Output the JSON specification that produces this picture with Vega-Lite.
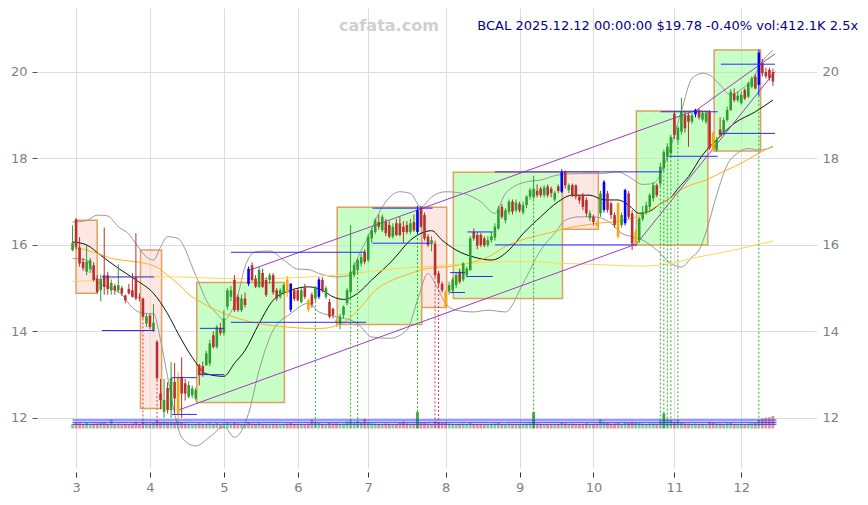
{
"$schema":"https://vega.github.io/schema/vega-lite/v6.json",
"width":775,"height":460,
"autosize":{"type":"none"},
"padding":{"left":37,"top":8,"right":56,"bottom":37},
"background":"white",
"config":{"view":{"stroke":null},"font":"DejaVu Sans"},
"datasets":{
"cd":[
{"i":-1,"o":15.88,"h":16.45,"l":15.85,"c":16.05,"t":"u","v":150},
{"i":0,"o":16.59,"h":16.62,"l":15.90,"c":15.96,"t":"d","v":180},
{"i":1,"o":15.94,"h":16.18,"l":15.50,"c":15.57,"t":"d","v":170},
{"i":2,"o":15.61,"h":15.70,"l":15.40,"c":15.46,"t":"d","v":140},
{"i":3,"o":15.38,"h":16.00,"l":15.30,"c":15.61,"t":"u","v":190},
{"i":4,"o":15.45,"h":15.70,"l":15.35,"c":15.65,"t":"u","v":150},
{"i":5,"o":15.53,"h":15.60,"l":15.15,"c":15.19,"t":"d","v":160},
{"i":6,"o":15.22,"h":15.30,"l":14.88,"c":14.91,"t":"d","v":170},
{"i":7,"o":14.95,"h":15.30,"l":14.70,"c":15.21,"t":"u","v":180},
{"i":8,"o":15.30,"h":16.40,"l":14.85,"c":15.03,"t":"d","v":200},
{"i":9,"o":15.30,"h":15.38,"l":14.85,"c":14.98,"t":"d","v":150},
{"i":10,"o":14.95,"h":15.20,"l":14.85,"c":15.12,"t":"u","v":290},
{"i":11,"o":15.05,"h":15.10,"l":14.85,"c":14.95,"t":"d","v":140},
{"i":12,"o":14.95,"h":15.55,"l":14.90,"c":15.07,"t":"u","v":160},
{"i":13,"o":15.00,"h":15.05,"l":14.82,"c":14.88,"t":"d","v":130},
{"i":14,"o":14.83,"h":14.85,"l":14.65,"c":14.72,"t":"d","v":150},
{"i":15,"o":14.98,"h":15.10,"l":14.85,"c":14.88,"t":"d","v":140},
{"i":16,"o":14.95,"h":15.35,"l":14.78,"c":14.80,"t":"d","v":160},
{"i":17,"o":15.25,"h":16.27,"l":14.72,"c":14.76,"t":"d","v":220},
{"i":18,"o":14.80,"h":14.88,"l":14.70,"c":14.78,"t":"d","v":150},
{"i":19,"o":14.76,"h":14.78,"l":14.30,"c":14.34,"t":"d","v":230},
{"i":20,"o":14.18,"h":14.40,"l":14.10,"c":14.35,"t":"u","v":170},
{"i":21,"o":14.37,"h":14.40,"l":14.05,"c":14.10,"t":"d","v":160},
{"i":22,"o":14.01,"h":14.63,"l":13.98,"c":14.20,"t":"u","v":180},
{"i":23,"o":13.76,"h":13.80,"l":12.88,"c":12.92,"t":"d","v":250},
{"i":24,"o":12.56,"h":12.90,"l":12.20,"c":12.41,"t":"d","v":210},
{"i":25,"o":12.14,"h":12.90,"l":12.00,"c":12.41,"t":"u","v":230},
{"i":26,"o":12.69,"h":12.82,"l":12.10,"c":12.18,"t":"d","v":200},
{"i":27,"o":12.18,"h":13.29,"l":12.00,"c":12.92,"t":"u","v":220},
{"i":28,"o":12.83,"h":13.27,"l":12.10,"c":12.45,"t":"d","v":190},
{"i":29,"o":12.10,"h":13.05,"l":11.97,"c":12.95,"t":"o","v":240},
{"i":30,"o":12.95,"h":13.40,"l":12.00,"c":12.56,"t":"d","v":200},
{"i":31,"o":12.80,"h":12.90,"l":12.40,"c":12.56,"t":"d","v":160},
{"i":32,"o":12.49,"h":12.85,"l":12.45,"c":12.76,"t":"u","v":150},
{"i":33,"o":12.52,"h":12.75,"l":12.45,"c":12.68,"t":"u","v":140},
{"i":34,"o":12.45,"h":12.70,"l":12.40,"c":12.64,"t":"u","v":150},
{"i":35,"o":13.22,"h":13.25,"l":12.75,"c":12.99,"t":"d","v":170},
{"i":36,"o":13.20,"h":13.30,"l":12.95,"c":13.00,"t":"d","v":150},
{"i":37,"o":13.22,"h":13.55,"l":13.20,"c":13.49,"t":"u","v":160},
{"i":38,"o":13.26,"h":13.80,"l":13.20,"c":13.72,"t":"u","v":170},
{"i":39,"o":13.91,"h":14.00,"l":13.60,"c":13.64,"t":"d","v":150},
{"i":40,"o":13.64,"h":14.15,"l":13.60,"c":14.10,"t":"u","v":180},
{"i":41,"o":14.07,"h":14.20,"l":13.90,"c":13.96,"t":"d","v":140},
{"i":42,"o":13.96,"h":14.49,"l":13.90,"c":14.30,"t":"u","v":170},
{"i":43,"o":14.57,"h":15.00,"l":14.50,"c":14.95,"t":"u","v":200},
{"i":44,"o":14.80,"h":15.05,"l":14.70,"c":14.95,"t":"u","v":160},
{"i":45,"o":15.19,"h":15.30,"l":14.45,"c":14.49,"t":"d","v":190},
{"i":46,"o":14.80,"h":14.85,"l":14.45,"c":14.49,"t":"d","v":170},
{"i":47,"o":14.49,"h":14.85,"l":14.45,"c":14.76,"t":"u","v":150},
{"i":48,"o":14.76,"h":14.90,"l":14.55,"c":14.61,"t":"d","v":140},
{"i":49,"o":15.10,"h":15.50,"l":15.05,"c":15.45,"t":"b","v":210},
{"i":50,"o":15.53,"h":15.60,"l":15.15,"c":15.19,"t":"d","v":160},
{"i":51,"o":15.22,"h":15.30,"l":15.00,"c":15.03,"t":"d","v":150},
{"i":52,"o":15.03,"h":15.50,"l":15.00,"c":15.42,"t":"u","v":170},
{"i":53,"o":15.35,"h":15.45,"l":15.00,"c":15.03,"t":"d","v":140},
{"i":54,"o":15.19,"h":15.25,"l":14.80,"c":14.84,"t":"d","v":150},
{"i":55,"o":15.19,"h":15.35,"l":15.10,"c":15.30,"t":"u","v":130},
{"i":56,"o":15.30,"h":15.35,"l":14.85,"c":14.90,"t":"d","v":150},
{"i":57,"o":14.95,"h":15.00,"l":14.70,"c":14.76,"t":"d","v":140},
{"i":58,"o":14.80,"h":15.00,"l":14.75,"c":14.95,"t":"u","v":130},
{"i":59,"o":14.88,"h":15.10,"l":14.85,"c":15.07,"t":"u","v":140},
{"i":60,"o":15.20,"h":15.28,"l":14.80,"c":14.88,"t":"o","v":160},
{"i":61,"o":15.10,"h":15.12,"l":14.45,"c":14.50,"t":"b","v":180},
{"i":62,"o":14.95,"h":15.00,"l":14.70,"c":14.75,"t":"d","v":150},
{"i":63,"o":14.95,"h":15.00,"l":14.70,"c":14.72,"t":"d","v":140},
{"i":64,"o":14.68,"h":15.00,"l":14.65,"c":14.95,"t":"u","v":150},
{"i":65,"o":15.00,"h":15.10,"l":14.75,"c":14.80,"t":"d","v":140},
{"i":66,"o":14.72,"h":14.75,"l":14.45,"c":14.50,"t":"o","v":160},
{"i":67,"o":14.85,"h":14.90,"l":14.55,"c":14.62,"t":"d","v":290},
{"i":68,"o":14.76,"h":15.05,"l":14.70,"c":15.03,"t":"u","v":200},
{"i":69,"o":14.80,"h":15.25,"l":14.75,"c":15.20,"t":"b","v":180},
{"i":70,"o":15.19,"h":15.25,"l":14.90,"c":14.93,"t":"d","v":150},
{"i":71,"o":14.80,"h":15.05,"l":14.75,"c":15.00,"t":"u","v":140},
{"i":72,"o":14.68,"h":14.75,"l":14.30,"c":14.34,"t":"d","v":190},
{"i":73,"o":14.52,"h":14.55,"l":14.30,"c":14.38,"t":"d","v":160},
{"i":74,"o":14.26,"h":14.30,"l":14.10,"c":14.19,"t":"o","v":170},
{"i":75,"o":14.18,"h":14.40,"l":14.05,"c":14.34,"t":"u","v":150},
{"i":76,"o":14.38,"h":14.60,"l":14.30,"c":14.57,"t":"u","v":160},
{"i":77,"o":14.65,"h":15.00,"l":14.60,"c":14.95,"t":"u","v":230},
{"i":78,"o":14.91,"h":16.46,"l":14.85,"c":15.38,"t":"u","v":260},
{"i":79,"o":15.30,"h":15.60,"l":15.25,"c":15.53,"t":"u","v":200},
{"i":80,"o":15.42,"h":15.70,"l":15.35,"c":15.65,"t":"u","v":240},
{"i":81,"o":15.57,"h":15.80,"l":15.50,"c":15.72,"t":"u","v":200},
{"i":82,"o":15.84,"h":15.90,"l":15.55,"c":15.61,"t":"d","v":320},
{"i":83,"o":15.65,"h":16.25,"l":15.60,"c":16.19,"t":"u","v":190},
{"i":84,"o":16.15,"h":16.40,"l":16.05,"c":16.34,"t":"u","v":170},
{"i":85,"o":16.30,"h":16.62,"l":16.25,"c":16.57,"t":"u","v":160},
{"i":86,"o":16.53,"h":16.70,"l":16.35,"c":16.42,"t":"d","v":150},
{"i":87,"o":16.34,"h":16.70,"l":16.30,"c":16.65,"t":"u","v":140},
{"i":88,"o":16.53,"h":16.60,"l":16.20,"c":16.27,"t":"d","v":160},
{"i":89,"o":16.46,"h":16.55,"l":16.15,"c":16.19,"t":"d","v":150},
{"i":90,"o":16.19,"h":16.50,"l":16.15,"c":16.42,"t":"u","v":140},
{"i":91,"o":16.50,"h":16.60,"l":16.20,"c":16.23,"t":"d","v":150},
{"i":92,"o":16.50,"h":16.65,"l":16.20,"c":16.23,"t":"d","v":190},
{"i":93,"o":16.42,"h":16.55,"l":16.05,"c":16.30,"t":"d","v":230},
{"i":94,"o":16.46,"h":16.55,"l":16.25,"c":16.30,"t":"d","v":170},
{"i":95,"o":16.30,"h":16.60,"l":16.25,"c":16.50,"t":"u","v":150},
{"i":96,"o":16.53,"h":16.70,"l":16.30,"c":16.34,"t":"d","v":160},
{"i":97,"o":16.30,"h":16.90,"l":16.25,"c":16.80,"t":"b","v":540},
{"i":98,"o":16.84,"h":16.90,"l":16.40,"c":16.42,"t":"d","v":200},
{"i":99,"o":16.69,"h":16.75,"l":16.10,"c":16.15,"t":"d","v":190},
{"i":100,"o":16.19,"h":16.25,"l":15.95,"c":16.00,"t":"d","v":170},
{"i":101,"o":16.02,"h":16.20,"l":15.85,"c":16.11,"t":"u","v":150},
{"i":102,"o":16.03,"h":16.10,"l":15.25,"c":15.30,"t":"d","v":230},
{"i":103,"o":15.34,"h":15.40,"l":15.05,"c":15.11,"t":"d","v":220},
{"i":104,"o":15.10,"h":15.15,"l":14.90,"c":14.95,"t":"d","v":180},
{"i":105,"o":14.92,"h":14.95,"l":14.55,"c":14.57,"t":"o","v":200},
{"i":106,"o":14.92,"h":15.15,"l":14.85,"c":15.07,"t":"u","v":160},
{"i":107,"o":14.95,"h":15.25,"l":14.90,"c":15.20,"t":"u","v":150},
{"i":108,"o":15.07,"h":15.35,"l":15.00,"c":15.30,"t":"u","v":140},
{"i":109,"o":15.38,"h":15.45,"l":15.10,"c":15.15,"t":"d","v":150},
{"i":110,"o":15.20,"h":15.60,"l":15.15,"c":15.57,"t":"u","v":160},
{"i":111,"o":15.30,"h":15.50,"l":15.25,"c":15.45,"t":"u","v":140},
{"i":112,"o":15.42,"h":16.20,"l":15.40,"c":16.15,"t":"u","v":200},
{"i":113,"o":16.30,"h":16.38,"l":16.10,"c":16.15,"t":"d","v":150},
{"i":114,"o":16.23,"h":16.30,"l":15.90,"c":15.98,"t":"d","v":140},
{"i":115,"o":16.23,"h":16.28,"l":15.95,"c":16.00,"t":"d","v":150},
{"i":116,"o":16.15,"h":16.20,"l":15.95,"c":15.99,"t":"d","v":130},
{"i":117,"o":16.00,"h":16.20,"l":15.95,"c":16.11,"t":"u","v":140},
{"i":118,"o":16.11,"h":16.30,"l":16.05,"c":16.20,"t":"u","v":150},
{"i":119,"o":16.17,"h":16.50,"l":16.10,"c":16.42,"t":"u","v":160},
{"i":120,"o":16.38,"h":16.90,"l":16.35,"c":16.84,"t":"u","v":180},
{"i":121,"o":16.88,"h":16.95,"l":16.60,"c":16.65,"t":"d","v":150},
{"i":122,"o":16.57,"h":16.85,"l":16.50,"c":16.80,"t":"u","v":140},
{"i":123,"o":16.77,"h":17.05,"l":16.70,"c":17.00,"t":"u","v":160},
{"i":124,"o":17.00,"h":17.05,"l":16.70,"c":16.77,"t":"d","v":150},
{"i":125,"o":16.80,"h":17.05,"l":16.75,"c":16.98,"t":"u","v":140},
{"i":126,"o":16.95,"h":17.00,"l":16.75,"c":16.80,"t":"d","v":130},
{"i":127,"o":16.75,"h":17.00,"l":16.70,"c":16.92,"t":"u","v":150},
{"i":128,"o":16.92,"h":17.15,"l":16.85,"c":17.12,"t":"u","v":160},
{"i":129,"o":17.12,"h":17.32,"l":17.05,"c":17.27,"t":"u","v":170},
{"i":130,"o":17.10,"h":17.60,"l":17.05,"c":17.30,"t":"u","v":540},
{"i":131,"o":17.25,"h":17.40,"l":17.10,"c":17.15,"t":"d","v":160},
{"i":132,"o":17.30,"h":17.35,"l":17.10,"c":17.15,"t":"d","v":150},
{"i":133,"o":17.15,"h":17.38,"l":17.10,"c":17.33,"t":"u","v":140},
{"i":134,"o":17.35,"h":17.40,"l":17.10,"c":17.15,"t":"d","v":150},
{"i":135,"o":17.30,"h":17.35,"l":17.10,"c":17.20,"t":"d","v":140},
{"i":136,"o":17.05,"h":17.25,"l":17.00,"c":17.20,"t":"u","v":130},
{"i":137,"o":17.35,"h":17.40,"l":17.20,"c":17.25,"t":"d","v":140},
{"i":138,"o":17.23,"h":17.75,"l":17.20,"c":17.69,"t":"b","v":200},
{"i":139,"o":17.69,"h":17.72,"l":17.30,"c":17.38,"t":"d","v":170},
{"i":140,"o":17.27,"h":17.42,"l":17.20,"c":17.38,"t":"u","v":150},
{"i":141,"o":17.38,"h":17.42,"l":17.10,"c":17.15,"t":"d","v":160},
{"i":142,"o":17.38,"h":17.40,"l":17.05,"c":17.12,"t":"d","v":150},
{"i":143,"o":17.12,"h":17.15,"l":16.95,"c":17.03,"t":"d","v":140},
{"i":144,"o":17.15,"h":17.20,"l":16.80,"c":16.88,"t":"d","v":150},
{"i":145,"o":17.04,"h":17.10,"l":16.65,"c":16.73,"t":"d","v":170},
{"i":146,"o":16.62,"h":16.80,"l":16.55,"c":16.73,"t":"u","v":150},
{"i":147,"o":16.65,"h":16.70,"l":16.45,"c":16.53,"t":"d","v":140},
{"i":148,"o":16.50,"h":16.55,"l":16.40,"c":16.45,"t":"o","v":160},
{"i":149,"o":16.73,"h":17.25,"l":16.65,"c":17.19,"t":"u","v":310},
{"i":150,"o":16.81,"h":17.50,"l":16.75,"c":17.46,"t":"b","v":220},
{"i":151,"o":17.19,"h":17.25,"l":16.75,"c":16.81,"t":"d","v":180},
{"i":152,"o":16.96,"h":17.00,"l":16.60,"c":16.69,"t":"d","v":160},
{"i":153,"o":16.69,"h":16.75,"l":16.40,"c":16.46,"t":"d","v":170},
{"i":154,"o":16.96,"h":17.00,"l":16.15,"c":16.19,"t":"o","v":200},
{"i":155,"o":16.46,"h":16.75,"l":16.40,"c":16.69,"t":"u","v":150},
{"i":156,"o":16.50,"h":17.30,"l":16.45,"c":17.27,"t":"b","v":200},
{"i":157,"o":17.19,"h":17.25,"l":16.60,"c":16.65,"t":"d","v":180},
{"i":158,"o":16.73,"h":16.80,"l":15.88,"c":16.03,"t":"d","v":220},
{"i":159,"o":16.02,"h":16.35,"l":15.96,"c":16.30,"t":"o","v":200},
{"i":160,"o":16.11,"h":16.65,"l":16.05,"c":16.61,"t":"u","v":180},
{"i":161,"o":16.60,"h":16.90,"l":16.55,"c":16.76,"t":"u","v":160},
{"i":162,"o":16.76,"h":17.00,"l":16.70,"c":16.92,"t":"u","v":150},
{"i":163,"o":16.88,"h":17.20,"l":16.80,"c":17.15,"t":"u","v":160},
{"i":164,"o":17.08,"h":17.45,"l":17.00,"c":17.38,"t":"u","v":170},
{"i":165,"o":17.38,"h":17.42,"l":17.10,"c":17.15,"t":"d","v":160},
{"i":166,"o":17.42,"h":17.90,"l":17.35,"c":17.81,"t":"u","v":260},
{"i":167,"o":17.77,"h":18.20,"l":17.70,"c":18.15,"t":"u","v":500},
{"i":168,"o":18.04,"h":18.35,"l":17.95,"c":18.27,"t":"u","v":300},
{"i":169,"o":18.12,"h":18.55,"l":18.05,"c":18.50,"t":"u","v":280},
{"i":170,"o":19.04,"h":19.10,"l":18.45,"c":18.54,"t":"d","v":220},
{"i":171,"o":18.43,"h":18.75,"l":18.35,"c":18.70,"t":"u","v":260},
{"i":172,"o":18.62,"h":19.40,"l":18.55,"c":19.08,"t":"u","v":200},
{"i":173,"o":19.00,"h":19.10,"l":18.60,"c":18.70,"t":"d","v":170},
{"i":174,"o":19.00,"h":19.05,"l":18.27,"c":18.85,"t":"d","v":160},
{"i":175,"o":18.85,"h":19.05,"l":18.80,"c":19.00,"t":"u","v":150},
{"i":176,"o":19.02,"h":19.15,"l":18.95,"c":19.12,"t":"b","v":160},
{"i":177,"o":19.12,"h":19.15,"l":18.90,"c":18.95,"t":"d","v":140},
{"i":178,"o":18.90,"h":19.10,"l":18.85,"c":19.05,"t":"u","v":150},
{"i":179,"o":18.85,"h":19.10,"l":18.80,"c":19.05,"t":"u","v":140},
{"i":180,"o":19.08,"h":19.12,"l":18.20,"c":18.24,"t":"d","v":220},
{"i":181,"o":18.60,"h":18.62,"l":18.15,"c":18.20,"t":"o","v":200},
{"i":182,"o":18.20,"h":18.50,"l":18.15,"c":18.43,"t":"u","v":170},
{"i":183,"o":18.67,"h":18.95,"l":18.50,"c":18.54,"t":"d","v":160},
{"i":184,"o":18.58,"h":18.95,"l":18.55,"c":18.89,"t":"u","v":150},
{"i":185,"o":18.89,"h":19.20,"l":18.85,"c":19.12,"t":"u","v":170},
{"i":186,"o":19.12,"h":19.60,"l":19.10,"c":19.54,"t":"u","v":180},
{"i":187,"o":19.50,"h":19.62,"l":19.30,"c":19.35,"t":"d","v":150},
{"i":188,"o":19.35,"h":19.55,"l":19.30,"c":19.45,"t":"u","v":140},
{"i":189,"o":19.28,"h":19.55,"l":19.25,"c":19.47,"t":"u","v":150},
{"i":190,"o":19.58,"h":19.62,"l":19.35,"c":19.39,"t":"d","v":140},
{"i":191,"o":19.43,"h":19.78,"l":19.40,"c":19.74,"t":"u","v":160},
{"i":192,"o":19.66,"h":19.90,"l":19.62,"c":19.85,"t":"u","v":170},
{"i":193,"o":19.89,"h":19.95,"l":19.60,"c":19.62,"t":"d","v":180},
{"i":194,"o":19.70,"h":20.52,"l":19.45,"c":20.45,"t":"b","v":300},
{"i":195,"o":20.20,"h":20.30,"l":19.90,"c":19.97,"t":"d","v":330},
{"i":196,"o":20.00,"h":20.10,"l":19.85,"c":19.90,"t":"d","v":360},
{"i":197,"o":20.05,"h":20.10,"l":19.80,"c":19.86,"t":"d","v":370},
{"i":198,"o":20.00,"h":20.08,"l":19.68,"c":19.78,"t":"d","v":412}
],
"bx":[
{"i1":0,"i2":6,"p1":16.57,"p2":14.88,"k":"r"},
{"i1":18.3,"i2":24.3,"p1":15.88,"p2":12.215,"k":"r"},
{"i1":34.3,"i2":59.2,"p1":15.13,"p2":12.355,"k":"g"},
{"i1":74.2,"i2":98.2,"p1":16.87,"p2":14.16,"k":"g"},
{"i1":98.2,"i2":105.3,"p1":16.87,"p2":14.55,"k":"r"},
{"i1":107.2,"i2":138.2,"p1":17.68,"p2":14.76,"k":"g"},
{"i1":138.2,"i2":148.4,"p1":17.69,"p2":16.36,"k":"r"},
{"i1":159.2,"i2":179.5,"p1":19.10,"p2":16.0,"k":"g"},
{"i1":181.3,"i2":194.5,"p1":20.51,"p2":18.17,"k":"g"}
],
"hl":[
{"i1":7.3,"i2":22.2,"p":15.26},
{"i1":7.3,"i2":22.2,"p":14.02},
{"i1":27.2,"i2":34.3,"p":12.93},
{"i1":27.2,"i2":34.3,"p":12.08},
{"i1":35.2,"i2":42.1,"p":14.07},
{"i1":35.2,"i2":42.1,"p":13.0},
{"i1":44,"i2":82.1,"p":15.83},
{"i1":44,"i2":82.4,"p":14.21},
{"i1":84.2,"i2":101.3,"p":16.85},
{"i1":84.2,"i2":100.6,"p":16.04},
{"i1":106.3,"i2":110.5,"p":15.36},
{"i1":111,"i2":118.4,"p":15.27},
{"i1":106.3,"i2":110.5,"p":14.9},
{"i1":111.2,"i2":118.4,"p":16.30},
{"i1":119,"i2":166.5,"p":17.69},
{"i1":119,"i2":159.4,"p":16.0},
{"i1":168.3,"i2":182.3,"p":18.05},
{"i1":166.1,"i2":182.3,"p":19.08},
{"i1":183.2,"i2":198.6,"p":20.18},
{"i1":183.2,"i2":198.6,"p":18.58}
],
"pl":[
{"i1":49.4,"p1":15.42,"i2":176.3,"p2":19.12},
{"i1":176.3,"p1":19.12,"i2":198.6,"p2":20.42},
{"i1":29.1,"p1":12.18,"i2":159.2,"p2":16.02},
{"i1":159.2,"p1":16.02,"i2":198.6,"p2":20.01}
],
"sg":[
{"i":68,"p":14.70,"k":"g"},{"i":78,"p":14.85,"k":"g"},{"i":80,"p":15.35,"k":"g"},{"i":97,"p":16.25,"k":"g"},
{"i":130,"p":17.05,"k":"g"},{"i":166,"p":17.35,"k":"g"},{"i":167,"p":17.70,"k":"g"},{"i":168,"p":17.95,"k":"g"},
{"i":169,"p":18.05,"k":"g"},{"i":171,"p":18.35,"k":"g"},{"i":194,"p":19.45,"k":"g"},
{"i":19,"p":14.30,"k":"r"},{"i":23,"p":12.88,"k":"r"},{"i":102,"p":15.25,"k":"r"},{"i":103,"p":15.05,"k":"r"}
],
"vl":[{"v":139},{"v":205},{"v":280}],
"tx":[{"t":"cafata.com"}],
"tt":[{"t":"BCAL 2025.12.12 00:00:00 $19.78 -0.40% vol:412.1K 2.5x"}],
"ln":[
{"s":"bu","i":-1,"v":16.53},{"s":"bu","i":3,"v":16.56},{"s":"bu","i":6,"v":16.69},{"s":"bu","i":9,"v":16.67},{"s":"bu","i":12,"v":16.42},{"s":"bu","i":15,"v":16.25},{"s":"bu","i":17,"v":16.03},{"s":"bu","i":20,"v":15.72},{"s":"bu","i":22,"v":15.65},{"s":"bu","i":24,"v":15.95},{"s":"bu","i":26,"v":16.19},{"s":"bu","i":29,"v":16.15},{"s":"bu","i":31,"v":15.9},{"s":"bu","i":33,"v":15.49},{"s":"bu","i":35,"v":15.1},{"s":"bu","i":37,"v":14.72},{"s":"bu","i":40,"v":14.41},{"s":"bu","i":42,"v":14.26},{"s":"bu","i":44,"v":14.45},{"s":"bu","i":46,"v":14.85},{"s":"bu","i":48,"v":15.5},{"s":"bu","i":51,"v":15.84},{"s":"bu","i":55,"v":15.86},{"s":"bu","i":59,"v":15.65},{"s":"bu","i":63,"v":15.44},{"s":"bu","i":66,"v":15.43},{"s":"bu","i":69,"v":15.34},{"s":"bu","i":74,"v":15.26},{"s":"bu","i":78,"v":15.3},{"s":"bu","i":80,"v":15.7},{"s":"bu","i":83,"v":16.19},{"s":"bu","i":87,"v":16.88},{"s":"bu","i":92,"v":17.23},{"s":"bu","i":95,"v":17.19},{"s":"bu","i":98,"v":16.88},{"s":"bu","i":101,"v":17.11},{"s":"bu","i":105,"v":17.23},{"s":"bu","i":110,"v":17.19},{"s":"bu","i":115,"v":17.0},{"s":"bu","i":119,"v":16.73},{"s":"bu","i":122,"v":17.19},{"s":"bu","i":128,"v":17.46},{"s":"bu","i":132,"v":17.5},{"s":"bu","i":137,"v":17.62},{"s":"bu","i":143,"v":17.65},{"s":"bu","i":149,"v":17.65},{"s":"bu","i":154,"v":17.69},{"s":"bu","i":157,"v":17.58},{"s":"bu","i":161,"v":17.4},{"s":"bu","i":164,"v":17.42},{"s":"bu","i":168,"v":18.04},{"s":"bu","i":172,"v":19.1},{"s":"bu","i":175,"v":19.85},{"s":"bu","i":178,"v":19.97},{"s":"bu","i":180,"v":19.93},{"s":"bu","i":183,"v":19.7},{"s":"bu","i":186,"v":19.47},{"s":"bu","i":189,"v":19.6},{"s":"bu","i":192,"v":19.81},{"s":"bu","i":195,"v":20.25},{"s":"bu","i":198,"v":20.5},
{"s":"bl","i":-1,"v":15.69},{"s":"bl","i":3,"v":15.65},{"s":"bl","i":6,"v":15.15},{"s":"bl","i":10,"v":15.0},{"s":"bl","i":13,"v":14.85},{"s":"bl","i":16,"v":14.55},{"s":"bl","i":19,"v":14.42},{"s":"bl","i":22,"v":14.41},{"s":"bl","i":24,"v":13.8},{"s":"bl","i":26,"v":12.95},{"s":"bl","i":28,"v":12.1},{"s":"bl","i":30,"v":11.55},{"s":"bl","i":34,"v":11.35},{"s":"bl","i":38,"v":11.56},{"s":"bl","i":42,"v":11.79},{"s":"bl","i":45,"v":11.55},{"s":"bl","i":49,"v":12.1},{"s":"bl","i":52,"v":13.1},{"s":"bl","i":56,"v":14.03},{"s":"bl","i":61,"v":14.41},{"s":"bl","i":66,"v":14.65},{"s":"bl","i":69,"v":14.45},{"s":"bl","i":74,"v":14.34},{"s":"bl","i":80,"v":14.18},{"s":"bl","i":84,"v":13.87},{"s":"bl","i":89,"v":13.84},{"s":"bl","i":94,"v":14.03},{"s":"bl","i":97,"v":14.72},{"s":"bl","i":100,"v":15.34},{"s":"bl","i":102,"v":15.11},{"s":"bl","i":105,"v":14.65},{"s":"bl","i":108,"v":14.49},{"s":"bl","i":113,"v":14.45},{"s":"bl","i":117,"v":14.49},{"s":"bl","i":122,"v":14.45},{"s":"bl","i":127,"v":15.11},{"s":"bl","i":132,"v":15.88},{"s":"bl","i":136,"v":16.27},{"s":"bl","i":139,"v":16.57},{"s":"bl","i":143,"v":16.65},{"s":"bl","i":147,"v":16.65},{"s":"bl","i":152,"v":16.5},{"s":"bl","i":155,"v":16.27},{"s":"bl","i":158,"v":16.19},{"s":"bl","i":161,"v":16.11},{"s":"bl","i":165,"v":15.88},{"s":"bl","i":169,"v":15.57},{"s":"bl","i":172,"v":15.49},{"s":"bl","i":175,"v":15.72},{"s":"bl","i":177,"v":15.88},{"s":"bl","i":179,"v":16.3},{"s":"bl","i":182,"v":17.15},{"s":"bl","i":185,"v":17.85},{"s":"bl","i":188,"v":18.13},{"s":"bl","i":191,"v":18.23},{"s":"bl","i":194,"v":18.19},{"s":"bl","i":198,"v":18.27},
{"s":"ma","i":-1,"v":16.07},{"s":"ma","i":3,"v":16.0},{"s":"ma","i":7,"v":15.76},{"s":"ma","i":12,"v":15.46},{"s":"ma","i":17,"v":15.19},{"s":"ma","i":22,"v":14.88},{"s":"ma","i":26,"v":14.41},{"s":"ma","i":29,"v":13.95},{"s":"ma","i":33,"v":13.4},{"s":"ma","i":37,"v":13.02},{"s":"ma","i":42,"v":12.96},{"s":"ma","i":45,"v":13.26},{"s":"ma","i":48,"v":13.56},{"s":"ma","i":52,"v":14.18},{"s":"ma","i":56,"v":14.72},{"s":"ma","i":61,"v":14.95},{"s":"ma","i":66,"v":15.03},{"s":"ma","i":70,"v":14.95},{"s":"ma","i":73,"v":14.8},{"s":"ma","i":76,"v":14.74},{"s":"ma","i":80,"v":14.88},{"s":"ma","i":84,"v":15.19},{"s":"ma","i":90,"v":15.65},{"s":"ma","i":95,"v":16.11},{"s":"ma","i":99,"v":16.3},{"s":"ma","i":101,"v":16.33},{"s":"ma","i":104,"v":16.11},{"s":"ma","i":108,"v":15.88},{"s":"ma","i":113,"v":15.72},{"s":"ma","i":118,"v":15.65},{"s":"ma","i":123,"v":15.88},{"s":"ma","i":127,"v":16.26},{"s":"ma","i":132,"v":16.65},{"s":"ma","i":137,"v":17.0},{"s":"ma","i":141,"v":17.15},{"s":"ma","i":146,"v":17.15},{"s":"ma","i":150,"v":17.04},{"s":"ma","i":154,"v":17.04},{"s":"ma","i":157,"v":16.92},{"s":"ma","i":160,"v":16.73},{"s":"ma","i":163,"v":16.78},{"s":"ma","i":166,"v":16.95},{"s":"ma","i":169,"v":17.1},{"s":"ma","i":171,"v":17.3},{"s":"ma","i":174,"v":17.58},{"s":"ma","i":178,"v":18.08},{"s":"ma","i":182,"v":18.43},{"s":"ma","i":187,"v":18.81},{"s":"ma","i":193,"v":19.08},{"s":"ma","i":198,"v":19.35},
{"s":"m50","i":-1,"v":15.96},{"s":"m50","i":3,"v":15.88},{"s":"m50","i":7,"v":15.78},{"s":"m50","i":10,"v":15.69},{"s":"m50","i":13,"v":15.65},{"s":"m50","i":17,"v":15.61},{"s":"m50","i":20,"v":15.57},{"s":"m50","i":23,"v":15.48},{"s":"m50","i":26,"v":15.3},{"s":"m50","i":29,"v":15.1},{"s":"m50","i":32,"v":14.86},{"s":"m50","i":36,"v":14.65},{"s":"m50","i":41,"v":14.45},{"s":"m50","i":46,"v":14.3},{"s":"m50","i":52,"v":14.18},{"s":"m50","i":60,"v":14.1},{"s":"m50","i":66,"v":14.07},{"s":"m50","i":70,"v":14.07},{"s":"m50","i":74,"v":14.14},{"s":"m50","i":77,"v":14.26},{"s":"m50","i":81,"v":14.57},{"s":"m50","i":85,"v":14.95},{"s":"m50","i":90,"v":15.19},{"s":"m50","i":95,"v":15.34},{"s":"m50","i":100,"v":15.46},{"s":"m50","i":105,"v":15.49},{"s":"m50","i":111,"v":15.57},{"s":"m50","i":117,"v":15.72},{"s":"m50","i":122,"v":15.96},{"s":"m50","i":128,"v":16.15},{"s":"m50","i":134,"v":16.27},{"s":"m50","i":139,"v":16.38},{"s":"m50","i":143,"v":16.44},{"s":"m50","i":148,"v":16.5},{"s":"m50","i":154,"v":16.55},{"s":"m50","i":158,"v":16.62},{"s":"m50","i":162,"v":16.75},{"s":"m50","i":165,"v":16.9},{"s":"m50","i":168,"v":17.04},{"s":"m50","i":173,"v":17.33},{"s":"m50","i":179,"v":17.5},{"s":"m50","i":184,"v":17.7},{"s":"m50","i":187,"v":17.81},{"s":"m50","i":191,"v":17.98},{"s":"m50","i":194,"v":18.12},{"s":"m50","i":198,"v":18.29},
{"s":"m200","i":-1,"v":15.15},{"s":"m200","i":3,"v":15.17},{"s":"m200","i":9,"v":15.22},{"s":"m200","i":15,"v":15.26},{"s":"m200","i":22,"v":15.26},{"s":"m200","i":28,"v":15.26},{"s":"m200","i":33,"v":15.25},{"s":"m200","i":43,"v":15.22},{"s":"m200","i":52,"v":15.22},{"s":"m200","i":64,"v":15.25},{"s":"m200","i":73,"v":15.3},{"s":"m200","i":83,"v":15.38},{"s":"m200","i":92,"v":15.46},{"s":"m200","i":102,"v":15.51},{"s":"m200","i":111,"v":15.57},{"s":"m200","i":120,"v":15.61},{"s":"m200","i":130,"v":15.61},{"s":"m200","i":139,"v":15.57},{"s":"m200","i":147,"v":15.55},{"s":"m200","i":155,"v":15.52},{"s":"m200","i":161,"v":15.51},{"s":"m200","i":169,"v":15.57},{"s":"m200","i":175,"v":15.69},{"s":"m200","i":182,"v":15.8},{"s":"m200","i":189,"v":15.92},{"s":"m200","i":194,"v":16.02},{"s":"m200","i":198,"v":16.09}
]
},
"layer":[
{"data":{"name":"bx"},"mark":{"type":"rect","stroke":"#e0a060","strokeWidth":1.5,"fillOpacity":0.55},
"encoding":{
"x":{"field":"i1","type":"quantitative","scale":{"domain":[-11.1,209.1],"nice":false,"zero":false,"padding":0},
"axis":{"values":[0,21,42,63,83,105,126,147,170,189],"labelExpr":"indexof([0,21,42,63,83,105,126,147,170,189], datum.value) + 3","grid":true,"gridColor":"#dddddd","domain":false,"tickColor":"#333333","tickSize":5,"offset":4,"labelColor":"#808080","labelFontSize":13,"labelPadding":4,"title":null}},
"x2":{"field":"i2"},
"y":{"field":"p1","type":"quantitative","scale":{"domain":[10.84,21.48],"nice":false,"zero":false,"padding":0},
"axis":{"orient":"left","values":[12,14,16,18,20],"grid":true,"gridColor":"#dddddd","domain":false,"tickColor":"#555555","tickSize":5,"labelColor":"#808080","labelFontSize":13,"labelPadding":5,"title":null}},
"y2":{"field":"p2"},
"fill":{"field":"k","type":"nominal","scale":{"domain":["g","r"],"range":["#99ff99","#fbd3cc"]},"legend":null}
}},
{"data":{"name":"ln"},"mark":{"type":"line","strokeWidth":1,"interpolate":"monotone"},
"encoding":{
"x":{"field":"i","type":"quantitative","scale":{"domain":[-11.1,209.1],"nice":false,"zero":false,"padding":0},"axis":null},
"y":{"field":"v","type":"quantitative","scale":{"domain":[10.84,21.48],"nice":false,"zero":false,"padding":0},"axis":null},
"color":{"field":"s","type":"nominal","scale":{"domain":["bu","bl","ma","m50","m200"],"range":["#999999","#999999","#111111","#ffb020","#ffd84a"]},"legend":null}
}},
{"data":{"name":"pl"},"mark":{"type":"rule","color":"#a13bbf","strokeWidth":1},
"encoding":{
"x":{"field":"i1","type":"quantitative","scale":{"domain":[-11.1,209.1],"nice":false,"zero":false,"padding":0},"axis":null},
"x2":{"field":"i2"},
"y":{"field":"p1","type":"quantitative","scale":{"domain":[10.84,21.48],"nice":false,"zero":false,"padding":0},"axis":null},
"y2":{"field":"p2"}
}},
{"data":{"name":"sg"},"mark":{"type":"rule","strokeDash":[2,2],"strokeWidth":1},
"encoding":{
"x":{"field":"i","type":"quantitative","scale":{"domain":[-11.1,209.1],"nice":false,"zero":false,"padding":0},"axis":null},
"y":{"field":"p","type":"quantitative","scale":{"domain":[10.84,21.48],"nice":false,"zero":false,"padding":0},"axis":null},
"y2":{"datum":11.77},
"color":{"field":"k","type":"nominal","scale":{"domain":["g","r"],"range":["#33aa33","#cc4444"]},"legend":null}
}},
{"data":{"name":"cd"},"mark":{"type":"rule","strokeWidth":1},
"encoding":{
"x":{"field":"i","type":"quantitative","scale":{"domain":[-11.1,209.1],"nice":false,"zero":false,"padding":0},"axis":null},
"y":{"field":"l","type":"quantitative","scale":{"domain":[10.84,21.48],"nice":false,"zero":false,"padding":0},"axis":null},
"y2":{"field":"h"},
"color":{"field":"t","type":"nominal","scale":{"domain":["u","d","b","o"],"range":["#2e9e2e","#b8312f","#0000ff","#ffa500"]},"legend":null}
}},
{"data":{"name":"cd"},"mark":{"type":"bar","width":2.6},
"encoding":{
"x":{"field":"i","type":"quantitative","scale":{"domain":[-11.1,209.1],"nice":false,"zero":false,"padding":0},"axis":null},
"y":{"field":"o","type":"quantitative","scale":{"domain":[10.84,21.48],"nice":false,"zero":false,"padding":0},"axis":null},
"y2":{"field":"c"},
"color":{"field":"t","type":"nominal","scale":{"domain":["u","d","b","o"],"range":["#2e9e2e","#b8312f","#0000ff","#ffa500"]},"legend":null}
}},
{"data":{"name":"hl"},"mark":{"type":"rule","color":"#2a2aff","strokeWidth":1},
"encoding":{
"x":{"field":"i1","type":"quantitative","scale":{"domain":[-11.1,209.1],"nice":false,"zero":false,"padding":0},"axis":null},
"x2":{"field":"i2"},
"y":{"field":"p","type":"quantitative","scale":{"domain":[10.84,21.48],"nice":false,"zero":false,"padding":0},
"axis":{"orient":"right","values":[12,14,16,18,20],"grid":false,"domain":false,"tickColor":"#dddddd","tickSize":5,"labelColor":"#808080","labelFontSize":13,"labelPadding":5,"title":null}}
}},
{"data":{"name":"cd"},"mark":{"type":"bar","width":2.8},
"encoding":{
"x":{"field":"i","type":"quantitative","scale":{"domain":[-11.1,209.1],"nice":false,"zero":false,"padding":0},"axis":null},
"y":{"field":"v","type":"quantitative","scale":{"domain":[-1304,13877],"nice":false,"zero":false,"padding":0},"axis":null},
"y2":{"datum":0},
"color":{"condition":{"test":"datum.c >= datum.o","value":"#2ca02c"},"value":"#c83737"},
"opacity":{"condition":{"test":"datum.v > 450","value":0.9},"value":0.55}
}},
{"data":{"name":"vl"},"mark":{"type":"rule","color":"#3030ff","strokeWidth":1},
"encoding":{
"x":{"datum":-1,"type":"quantitative","scale":{"domain":[-11.1,209.1],"nice":false,"zero":false,"padding":0},"axis":null},
"x2":{"datum":199},
"y":{"field":"v","type":"quantitative","scale":{"domain":[-1304,13877],"nice":false,"zero":false,"padding":0},"axis":null}
}},
{"data":{"name":"tx"},"mark":{"type":"text","font":"DejaVu Sans","fontWeight":"bold","fontSize":16,"color":"#d0d0d0","align":"center","baseline":"middle"},
"encoding":{
"x":{"datum":88.9,"type":"quantitative","scale":{"domain":[-11.1,209.1],"nice":false,"zero":false,"padding":0},"axis":null},
"y":{"datum":21.06,"type":"quantitative","scale":{"domain":[10.84,21.48],"nice":false,"zero":false,"padding":0},"axis":null},
"text":{"field":"t"}
}},
{"data":{"name":"tt"},"mark":{"type":"text","font":"DejaVu Sans","fontSize":13,"color":"#00008b","align":"right","baseline":"middle"},
"encoding":{
"x":{"datum":222.2,"type":"quantitative","scale":{"domain":[-11.1,209.1],"nice":false,"zero":false,"padding":0},"axis":null},
"y":{"datum":21.06,"type":"quantitative","scale":{"domain":[10.84,21.48],"nice":false,"zero":false,"padding":0},"axis":null},
"text":{"field":"t"}
}}
],
"resolve":{"scale":{"y":"independent","color":"independent","fill":"independent","opacity":"independent"},"axis":{"x":"independent"}}
}
